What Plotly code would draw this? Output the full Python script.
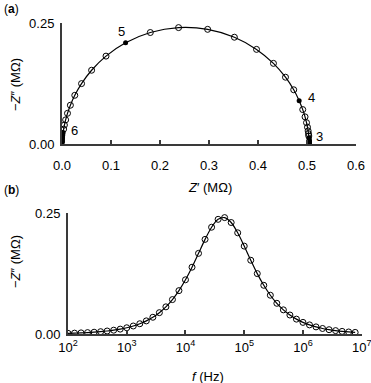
import plotly.graph_objects as go

# ---- data (9 points per decade) ----
freq_hz = [100, 129.2, 166.8, 215.4, 278.3, 359.4, 464.2, 599.5, 774.3,
           1000, 1292, 1668, 2154, 2783, 3594, 4642, 5995, 7743,
           1.0e4, 1.292e4, 1.668e4, 2.154e4, 2.783e4, 3.594e4, 4.642e4, 5.995e4, 7.743e4,
           1.0e5, 1.292e5, 1.668e5, 2.154e5, 2.783e5, 3.594e5, 4.642e5, 5.995e5, 7.743e5,
           1.0e6, 1.292e6, 1.668e6, 2.154e6, 2.783e6, 3.594e6, 4.642e6, 5.995e6, 7.743e6]

z_real = [0.5049, 0.5049, 0.5049, 0.5048, 0.5048, 0.5047, 0.5046, 0.5045, 0.5043,
          0.5041, 0.5037, 0.5031, 0.5023, 0.5010, 0.4990, 0.4960, 0.4913, 0.4840,
          0.4729, 0.4561, 0.4315, 0.3970, 0.3518, 0.2972, 0.2379, 0.1802, 0.1298,
          0.0898, 0.0604, 0.0399, 0.0261, 0.0171, 0.0112, 0.0074, 0.0049, 0.0033,
          0.0023, 0.0016, 0.0011, 0.0008, 0.0006, 0.0004, 0.0003, 0.0002, 0.0002]

z_imag_neg = [0.0014, 0.0018, 0.0023, 0.0029, 0.0037, 0.0048, 0.0062, 0.0079, 0.0101,
              0.0129, 0.0165, 0.0212, 0.0271, 0.0346, 0.0441, 0.0561, 0.0711, 0.0896,
              0.1120, 0.1380, 0.1666, 0.1955, 0.2206, 0.2369, 0.2405, 0.2303, 0.2091,
              0.1816, 0.1524, 0.1248, 0.1006, 0.0801, 0.0634, 0.0499, 0.0392, 0.0307,
              0.0240, 0.0188, 0.0147, 0.0114, 0.0089, 0.0070, 0.0054, 0.0042, 0.0033]

# labelled points in panel (a)
decade_index = [9, 17, 26, 36]
decade_label = ["3", "4", "5", "6"]
label_shift = [(10, 1), (12, 3), (-4, 11), (11, 2)]
# points drawn as filled dots in panel (a)
filled_index = list(range(0, 10)) + [17, 26] + list(range(36, 45))

x_ticks_a = [0.0, 0.1, 0.2, 0.3, 0.4, 0.5, 0.6]
y_ticks = [0.0, 0.25]
f_ticks = [1e2, 1e3, 1e4, 1e5, 1e6, 1e7]
f_tick_text = ["10<sup>2</sup>", "10<sup>3</sup>", "10<sup>4</sup>",
               "10<sup>5</sup>", "10<sup>6</sup>", "10<sup>7</sup>"]

FONT = "Liberation Sans, Arial, Helvetica, sans-serif"
AX = "#3a3a3a"
W, H = 371, 383

fig = go.Figure()

open_idx = [i for i in range(len(z_real)) if i not in filled_index]

# panel (a)
fig.add_trace(go.Scatter(x=z_real, y=z_imag_neg, mode="lines",
                         line=dict(color="black", width=1.2, shape="spline", smoothing=0.8),
                         xaxis="x", yaxis="y", hoverinfo="skip"))
fig.add_trace(go.Scatter(x=[z_real[i] for i in open_idx], y=[z_imag_neg[i] for i in open_idx],
                         mode="markers",
                         marker=dict(symbol="circle-open", size=6, color="black", line=dict(width=1)),
                         xaxis="x", yaxis="y"))
fig.add_trace(go.Scatter(x=[z_real[i] for i in filled_index], y=[z_imag_neg[i] for i in filled_index],
                         mode="markers",
                         marker=dict(symbol="circle", size=5, color="black"),
                         xaxis="x", yaxis="y"))

# panel (b)
fig.add_trace(go.Scatter(x=freq_hz, y=z_imag_neg, mode="lines+markers",
                         line=dict(color="black", width=1.2, shape="spline", smoothing=0.8),
                         marker=dict(symbol="circle-open", size=6, color="black", line=dict(width=1)),
                         xaxis="x2", yaxis="y2"))

axis_common = dict(showline=True, linecolor=AX, linewidth=2, mirror=False,
                   showgrid=False, zeroline=False, ticks="inside", ticklen=4,
                   tickwidth=1.5, tickcolor=AX, automargin=False,
                   ticklabeloverflow="allow",
                   tickfont=dict(family=FONT, size=13, color="black"))

annotations = []
for i, lab, (dx, dy) in zip(decade_index, decade_label, label_shift):
    annotations.append(dict(x=z_real[i], y=z_imag_neg[i], xref="x", yref="y",
                            text=lab, showarrow=False, xshift=dx, yshift=dy,
                            font=dict(family=FONT, size=13, color="black")))


def paper_pt(px, py, text, size=13, angle=0, xanchor="center"):
    return dict(x=px / W, y=1 - py / H, xref="paper", yref="paper", text=text,
                showarrow=False, textangle=angle, xanchor=xanchor, yanchor="middle",
                font=dict(family=FONT, size=size, color="black"))


annotations += [
    paper_pt(2, 9, "(<b>a</b>)", 12, xanchor="left"),
    paper_pt(2, 190, "(<b>b</b>)", 12, xanchor="left"),
    paper_pt(15, 84, "\u2212<i>Z</i>\u2033 (M\u03a9)", 13, angle=-90),
    paper_pt(15, 261, "\u2212<i>Z</i>\u2033 (M\u03a9)", 13, angle=-90),
    paper_pt(210, 187, "<i>Z</i>\u2032 (M\u03a9)", 13),
    paper_pt(208, 376, "<i>f</i> (Hz)", 13),
]

fig.update_layout(
    template="none",
    width=W, height=H, margin=dict(l=0, r=0, t=0, b=0, pad=0, autoexpand=False),
    paper_bgcolor="white", plot_bgcolor="white", showlegend=False,
    xaxis=dict(domain=[62 / W, 356 / W], range=[0, 0.6], tickvals=x_ticks_a,
               tickformat=".1f", anchor="y", ticklabelstandoff=8, **axis_common),
    yaxis=dict(domain=[1 - 144 / H, 1 - 23 / H], range=[0, 0.25], tickvals=y_ticks,
               tickformat=".2f", anchor="x", ticklabelstandoff=3, **axis_common),
    xaxis2=dict(domain=[68 / W, 361.7 / W], type="log", range=[2, 7], tickvals=f_ticks,
                ticktext=f_tick_text, anchor="y2", ticklabelstandoff=0, **axis_common),
    yaxis2=dict(domain=[1 - 334 / H, 1 - 213 / H], range=[0, 0.25], tickvals=y_ticks,
                tickformat=".2f", anchor="x2", ticklabelstandoff=3, **axis_common),
    annotations=annotations,
)

fig.write_html("out.html", config={"displayModeBar": False},
               post_script="document.body.style.margin='0px';")
